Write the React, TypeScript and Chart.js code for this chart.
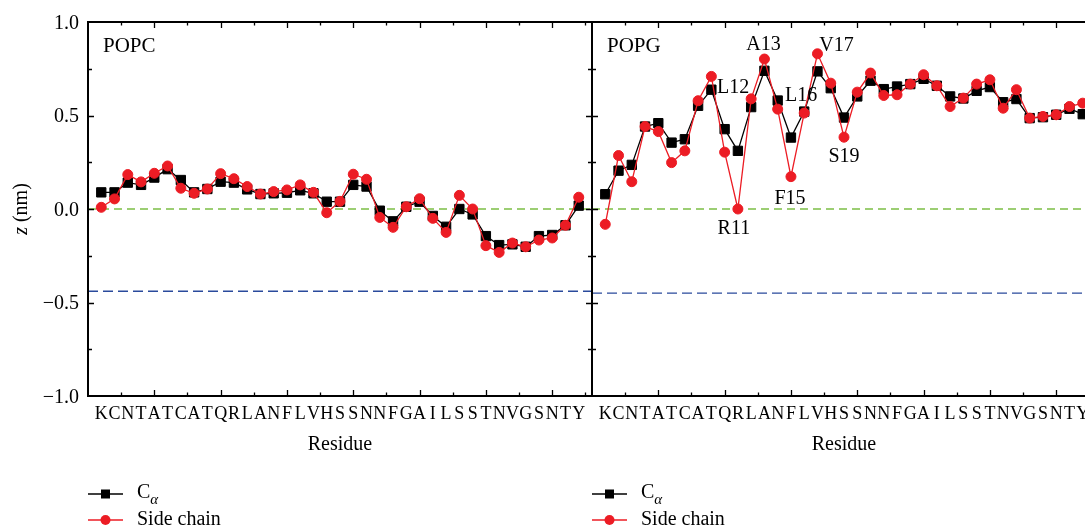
import { useEffect, useRef } from 'react';
import { Chart, registerables } from 'chart.js';

Chart.register(...registerables);

// Amylin sequence, one letter per residue (1..37)
const residues = ['K','C','N','T','A','T','C','A','T','Q','R','L','A','N','F','L','V','H','S','S','N','N','F','G','A','I','L','S','S','T','N','V','G','S','N','T','Y'];

// Insertion depth z (nm) per residue, POPC bilayer
const popcCa = [0.089, 0.089, 0.141, 0.129, 0.168, 0.213, 0.155, 0.089, 0.107, 0.146, 0.141, 0.105, 0.080, 0.084, 0.087, 0.100, 0.084, 0.039, 0.039, 0.129, 0.120, -0.009, -0.066, 0.012, 0.039, -0.037, -0.095, 0.000, -0.029, -0.145, -0.193, -0.189, -0.202, -0.145, -0.139, -0.087, 0.018];
const popcSide = [0.009, 0.054, 0.184, 0.145, 0.191, 0.230, 0.111, 0.084, 0.107, 0.189, 0.162, 0.120, 0.080, 0.093, 0.102, 0.129, 0.089, -0.020, 0.041, 0.186, 0.159, -0.045, -0.098, 0.012, 0.055, -0.050, -0.125, 0.073, 0.000, -0.196, -0.232, -0.182, -0.202, -0.166, -0.155, -0.087, 0.063];

// Insertion depth z (nm) per residue, POPG bilayer
const popgCa = [0.079, 0.205, 0.236, 0.441, 0.459, 0.355, 0.373, 0.552, 0.638, 0.427, 0.311, 0.545, 0.739, 0.580, 0.382, 0.521, 0.736, 0.646, 0.489, 0.602, 0.686, 0.641, 0.655, 0.668, 0.696, 0.659, 0.602, 0.591, 0.632, 0.652, 0.571, 0.588, 0.486, 0.491, 0.504, 0.536, 0.507];
const popgSide = [-0.082, 0.286, 0.146, 0.441, 0.414, 0.248, 0.311, 0.579, 0.709, 0.304, 0.000, 0.589, 0.802, 0.534, 0.173, 0.513, 0.830, 0.673, 0.384, 0.625, 0.727, 0.607, 0.611, 0.668, 0.718, 0.659, 0.548, 0.593, 0.668, 0.691, 0.539, 0.638, 0.486, 0.495, 0.504, 0.548, 0.566];

// Reference levels: membrane surface (0) and phosphate plane
const surfaceLevel = 0;
const popcPhosphate = -0.44;
const popgPhosphate = -0.45;

// Labelled residues in the POPG panel
const popgMarked = [11, 12, 13, 15, 16, 17, 19];

const yTicks = [-1, -0.5, 0, 0.5, 1];

const FONT = '"Liberation Serif", "DejaVu Serif", serif';
const RED = '#ec1c24';
const GREEN = '#7cbf45';
const BLUE = '#2a4a9c';

// Text placement around a marked residue (offset from its side-chain point)
const markOffsets: Record<number, [number, number]> = {
  11: [-4, 20],
  12: [-18, -11],
  13: [-1, -14],
  15: [-1, 22],
  16: [-3, -17],
  17: [19, -8],
  19: [0, 20],
};

const fmtY = (v: number) => {
  const s = Math.abs(v).toFixed(1);
  return v < 0 ? '\u2212' + s : s;
};

type PanelOpts = {
  name: string;
  ca: number[];
  side: number[];
  phosphate: number;
  showY: boolean;
  marked: number[];
};

const panelDecor = {
  id: 'panelDecor',
  beforeDatasetsDraw(chart: any, _args: any, o: PanelOpts) {
    const { ctx, chartArea: a, scales } = chart;
    const y = scales.y;
    ctx.save();
    ctx.lineWidth = 1.4;
    ctx.setLineDash([8, 5]);
    ctx.strokeStyle = GREEN;
    const y0 = y.getPixelForValue(surfaceLevel);
    ctx.beginPath();
    ctx.moveTo(a.left, y0);
    ctx.lineTo(a.right, y0);
    ctx.stroke();
    ctx.strokeStyle = BLUE;
    ctx.setLineDash([10, 5]);
    const yp = y.getPixelForValue(o.phosphate);
    ctx.beginPath();
    ctx.moveTo(a.left, yp);
    ctx.lineTo(a.right, yp);
    ctx.stroke();
    ctx.restore();
  },
  afterDraw(chart: any, _args: any, o: PanelOpts) {
    const { ctx, chartArea: a, scales } = chart;
    const xs = scales.x;
    const ys = scales.y;
    ctx.save();
    ctx.strokeStyle = '#000';
    ctx.fillStyle = '#000';

    // frame
    ctx.lineWidth = 2;
    ctx.strokeRect(a.left, a.top, a.right - a.left, a.bottom - a.top);

    // inward tick marks
    ctx.lineWidth = 1.3;
    ctx.beginPath();
    for (let k = 1; k * 2.5 < 38; k++) {
      const v = k * 2.5;
      const px = Math.round(xs.getPixelForValue(v)) + 0.5;
      const len = k % 2 === 0 ? 6 : 3.5;
      ctx.moveTo(px, a.bottom);
      ctx.lineTo(px, a.bottom - len);
      ctx.moveTo(px, a.top);
      ctx.lineTo(px, a.top + len);
    }
    for (let k = -3; k <= 3; k++) {
      const v = k * 0.25;
      const py = Math.round(ys.getPixelForValue(v)) + 0.5;
      const len = k % 2 === 0 ? 6 : 4;
      ctx.moveTo(a.left, py);
      ctx.lineTo(a.left + len, py);
      ctx.moveTo(a.right, py);
      ctx.lineTo(a.right - len, py);
    }
    ctx.stroke();

    // panel name
    ctx.font = `21px ${FONT}`;
    ctx.textBaseline = 'middle';
    ctx.textAlign = 'left';
    ctx.fillText(o.name, a.left + 15, a.top + 24);

    // marked residues
    ctx.font = `20px ${FONT}`;
    ctx.textAlign = 'center';
    o.marked.forEach((r) => {
      const [dx, dy] = markOffsets[r] || [0, 0];
      const px = xs.getPixelForValue(r);
      const py = ys.getPixelForValue(o.side[r - 1]);
      ctx.fillText(residues[r - 1] + r, px + dx, py + dy);
    });

    // y-axis title
    if (o.showY) {
      ctx.save();
      ctx.translate(22, (a.top + a.bottom) / 2);
      ctx.rotate(-Math.PI / 2);
      ctx.textAlign = 'left';
      ctx.font = `italic 20px ${FONT}`;
      const wz = ctx.measureText('z').width;
      ctx.font = `20px ${FONT}`;
      const wr = ctx.measureText(' (nm)').width;
      const x0 = -(wz + wr) / 2;
      ctx.font = `italic 20px ${FONT}`;
      ctx.fillText('z', x0, 0);
      ctx.font = `20px ${FONT}`;
      ctx.fillText(' (nm)', x0 + wz, 0);
      ctx.restore();
    }

    // legend
    const lx = a.left;
    const rows = [494, 520];
    ctx.textAlign = 'left';
    ctx.lineWidth = 1.3;
    ctx.strokeStyle = '#000';
    ctx.beginPath();
    ctx.moveTo(lx, rows[0]);
    ctx.lineTo(lx + 35, rows[0]);
    ctx.stroke();
    ctx.fillRect(lx + 17.5 - 4.5, rows[0] - 4.5, 9, 9);
    ctx.font = `20px ${FONT}`;
    ctx.fillText('C', lx + 49, rows[0] - 1);
    const wc = ctx.measureText('C').width;
    ctx.font = `italic 15px ${FONT}`;
    ctx.fillText('\u03b1', lx + 49 + wc, rows[0] + 6);
    ctx.strokeStyle = RED;
    ctx.fillStyle = RED;
    ctx.beginPath();
    ctx.moveTo(lx, rows[1]);
    ctx.lineTo(lx + 35, rows[1]);
    ctx.stroke();
    ctx.beginPath();
    ctx.arc(lx + 17.5, rows[1], 5, 0, Math.PI * 2);
    ctx.fill();
    ctx.fillStyle = '#000';
    ctx.font = `20px ${FONT}`;
    ctx.fillText('Side chain', lx + 49, rows[1]);
    ctx.restore();
  },
};

function makeConfig(o: PanelOpts, padding: any): any {
  const pts = (vals: number[]) => vals.map((v, i) => ({ x: i + 1, y: v }));
  return {
    type: 'line',
    data: {
      datasets: [
        {
          label: 'Side chain',
          data: pts(o.side),
          borderColor: RED,
          backgroundColor: RED,
          borderWidth: 1.3,
          pointStyle: 'circle',
          pointRadius: 5,
          pointBorderWidth: 1,
          tension: 0,
          order: 0,
        },
        {
          label: 'C\u03b1',
          data: pts(o.ca),
          borderColor: '#000',
          backgroundColor: '#000',
          borderWidth: 1.3,
          pointStyle: 'rect',
          pointRadius: 6.6,
          pointBorderWidth: 1,
          tension: 0,
          order: 1,
        },
      ],
    },
    options: {
      responsive: false,
      animation: false,
      layout: { padding },
      plugins: {
        legend: { display: false },
        tooltip: { enabled: false },
        panelDecor: o,
      },
      scales: {
        x: {
          type: 'linear',
          min: 0,
          max: 38,
          grid: { display: false, drawTicks: false },
          border: { display: false },
          afterBuildTicks: (s: any) => {
            s.ticks = residues.map((_, i) => ({ value: i + 1 }));
          },
          afterFit: (s: any) => {
            s.height = 64;
          },
          ticks: {
            autoSkip: false,
            maxRotation: 0,
            minRotation: 0,
            padding: 7,
            color: '#000',
            font: { family: FONT, size: 18 },
            callback: (v: number) => residues[v - 1] ?? '',
          },
          title: {
            display: true,
            text: 'Residue',
            color: '#000',
            font: { family: FONT, size: 20 },
            padding: { top: 0, bottom: 3 },
          },
        },
        y: {
          min: -1,
          max: 1,
          display: o.showY,
          grid: { display: false, drawTicks: false },
          border: { display: false },
          afterBuildTicks: (s: any) => {
            s.ticks = yTicks.map((v) => ({ value: v }));
          },
          afterFit: (s: any) => {
            s.width = o.showY ? 88 : 0;
          },
          ticks: {
            padding: 9,
            labelOffset: 1.5,
            color: '#000',
            font: { family: FONT, size: 20 },
            callback: (v: number) => fmtY(v),
          },
        },
      },
    },
    plugins: [panelDecor],
  };
}

export default function App() {
  const leftRef = useRef<HTMLCanvasElement>(null);
  const rightRef = useRef<HTMLCanvasElement>(null);

  useEffect(() => {
    const left = new Chart(
      leftRef.current!,
      makeConfig(
        { name: 'POPC', ca: popcCa, side: popcSide, phosphate: popcPhosphate, showY: true, marked: [] },
        { left: 0, top: 22, right: 8, bottom: 70 }
      )
    );
    const right = new Chart(
      rightRef.current!,
      makeConfig(
        { name: 'POPG', ca: popgCa, side: popgSide, phosphate: popgPhosphate, showY: false, marked: popgMarked },
        { left: 12, top: 22, right: 14, bottom: 70 }
      )
    );
    return () => {
      left.destroy();
      right.destroy();
    };
  }, []);

  return (
    <div
      style={{
        position: 'fixed',
        left: 0,
        top: 0,
        width: 1085,
        height: 530,
        overflow: 'hidden',
        background: '#fff',
      }}
    >
      <canvas ref={leftRef} width={600} height={530} style={{ position: 'absolute', left: 0, top: 0 }} />
      <canvas ref={rightRef} width={530} height={530} style={{ position: 'absolute', left: 580, top: 0 }} />
    </div>
  );
}
